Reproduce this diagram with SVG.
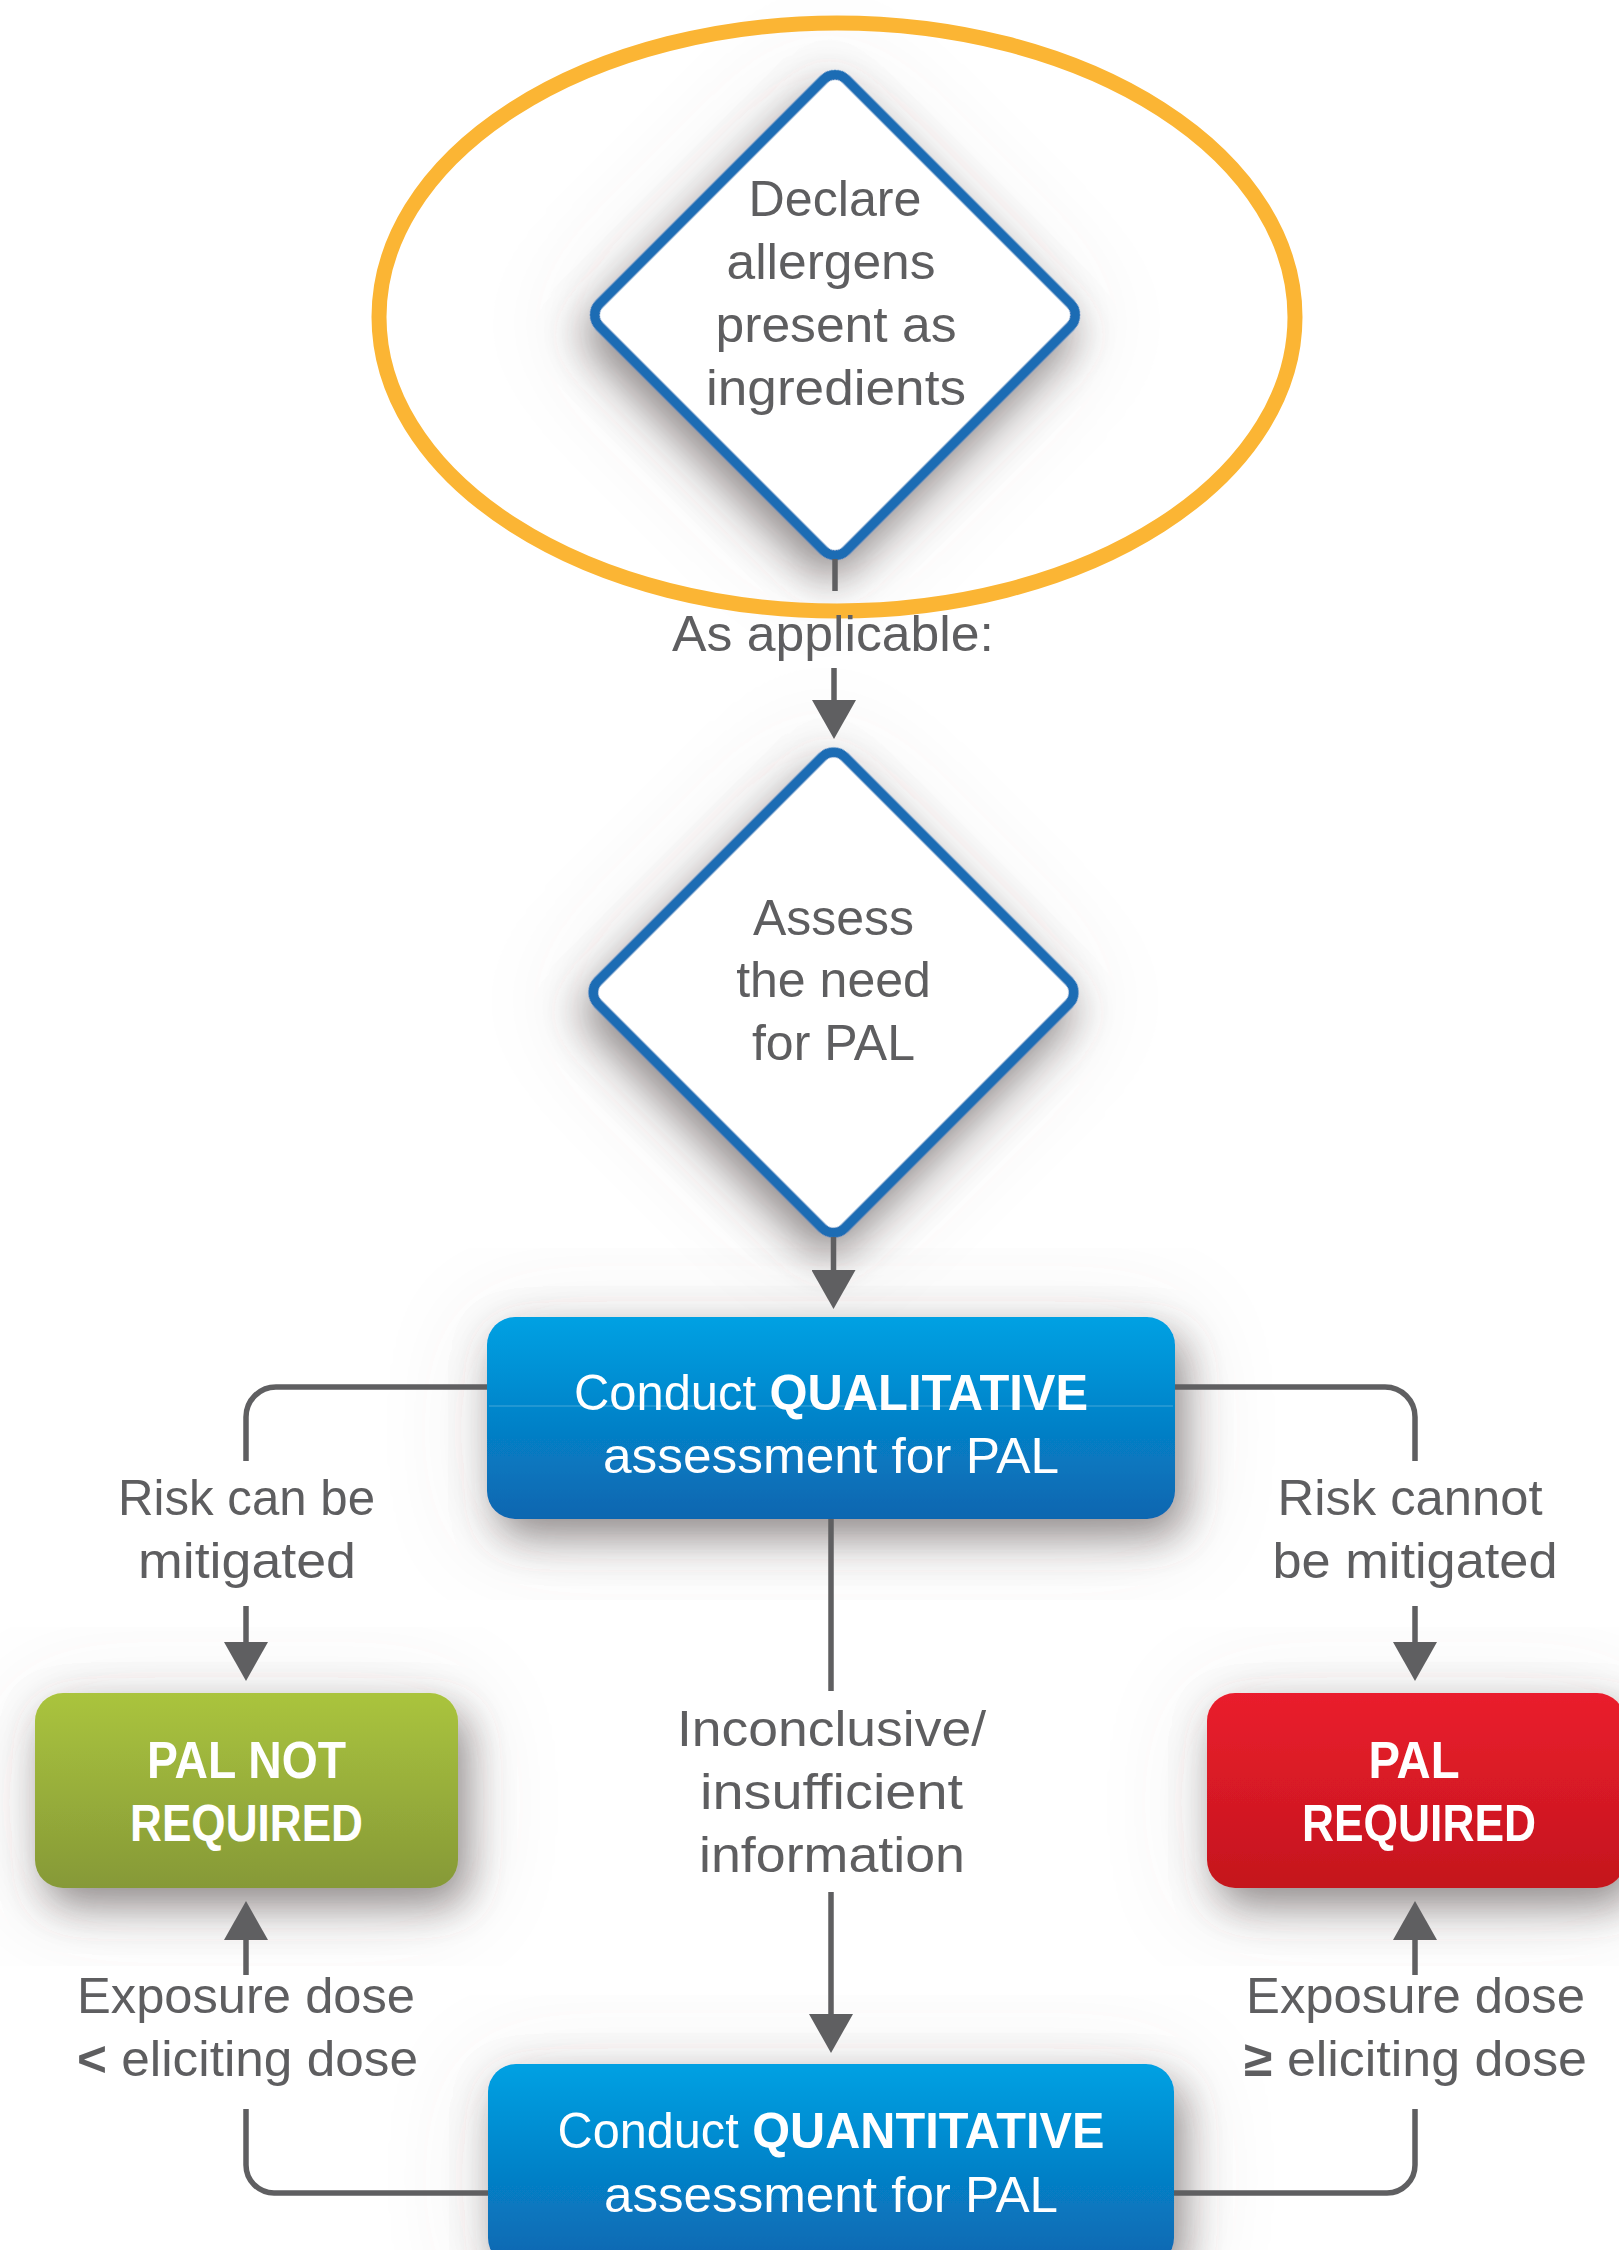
<svg xmlns="http://www.w3.org/2000/svg" width="1619" height="2250" viewBox="0 0 1619 2250">
<defs>
<style>
.lbl{font-family:"Liberation Sans",Arial,sans-serif;font-size:50px;fill:#5e5e60;text-anchor:middle}
.wht{font-family:"Liberation Sans",Arial,sans-serif;font-size:50px;fill:#ffffff;text-anchor:middle}
.bld{font-weight:bold}
.dia{fill:#ffffff;stroke:#1a6cb4;stroke-width:10}
.con{fill:none;stroke:#5f5f61;stroke-width:5.5}
</style>
<filter id="sh" x="-40%" y="-40%" width="180%" height="180%">
<feGaussianBlur in="SourceAlpha" stdDeviation="50" result="b2"/>
<feOffset in="b2" dx="0" dy="12" result="o2"/>
<feFlood flood-color="#6b6464" flood-opacity="0.16"/>
<feComposite in2="o2" operator="in" result="s2"/>
<feGaussianBlur in="SourceAlpha" stdDeviation="20" result="b1"/>
<feOffset in="b1" dx="10" dy="18" result="o1"/>
<feFlood flood-color="#574d4d" flood-opacity="0.6"/>
<feComposite in2="o1" operator="in" result="s1"/>
<feMerge><feMergeNode in="s2"/><feMergeNode in="s1"/><feMergeNode in="SourceGraphic"/></feMerge>
</filter>
<linearGradient id="gBlue" x1="0" y1="0" x2="0" y2="1">
<stop offset="0" stop-color="#00a1e3"/><stop offset="1" stop-color="#0a66b0"/>
</linearGradient>
<linearGradient id="gGreen" x1="0" y1="0" x2="0" y2="1">
<stop offset="0" stop-color="#aac43e"/><stop offset="1" stop-color="#869937"/>
</linearGradient>
<linearGradient id="gRed" x1="0" y1="0" x2="0" y2="1">
<stop offset="0" stop-color="#ea1d2d"/><stop offset="1" stop-color="#c4161d"/>
</linearGradient>
<marker id="ah" viewBox="0 0 39 44" refX="0" refY="22" markerWidth="39" markerHeight="44" markerUnits="userSpaceOnUse" orient="auto">
<path d="M0,0 L39,22 L0,44 Z" fill="#5f5f61"/>
</marker>
</defs>
<rect x="0" y="0" width="1619" height="2250" fill="#ffffff"/>

<g id="n-declare">
<rect class="dia" x="-174.5" y="-174.5" width="349" height="349" rx="16" transform="translate(835,315) rotate(45)" filter="url(#sh)"/>
<text class="lbl" x="835" y="216" textLength="173" lengthAdjust="spacingAndGlyphs">Declare</text>
<text class="lbl" x="831" y="279" textLength="209" lengthAdjust="spacingAndGlyphs">allergens</text>
<text class="lbl" x="836" y="342" textLength="241" lengthAdjust="spacingAndGlyphs">present as</text>
<text class="lbl" x="836" y="405" textLength="260" lengthAdjust="spacingAndGlyphs">ingredients</text>
</g>

<g id="n-assess">
<rect class="dia" x="-174.5" y="-174.5" width="349" height="349" rx="16" transform="translate(833.5,992.5) rotate(45)" filter="url(#sh)"/>
<text class="lbl" x="833.5" y="935">Assess</text>
<text class="lbl" x="833.5" y="997">the need</text>
<text class="lbl" x="833.5" y="1060">for PAL</text>
</g>

<g id="n-qualitative">
<rect x="487" y="1317" width="688" height="202" rx="28" fill="url(#gBlue)" filter="url(#sh)"/>
<line x1="489" y1="1406" x2="1173" y2="1406" stroke="#ffffff" stroke-opacity="0.18" stroke-width="1.5"/>
<text class="wht" x="831" y="1410" textLength="514" lengthAdjust="spacingAndGlyphs">Conduct <tspan class="bld">QUALITATIVE</tspan></text>
<text class="wht" x="831" y="1473" textLength="456" lengthAdjust="spacingAndGlyphs">assessment for PAL</text>
</g>

<g id="n-pal-not-required">
<rect x="35" y="1693" width="423" height="195" rx="28" fill="url(#gGreen)" filter="url(#sh)"/>
<text class="wht bld" x="246.5" y="1778" style="font-size:52px" textLength="199" lengthAdjust="spacingAndGlyphs">PAL NOT</text>
<text class="wht bld" x="246.5" y="1841" style="font-size:52px" textLength="233" lengthAdjust="spacingAndGlyphs">REQUIRED</text>
</g>

<g id="n-pal-required">
<rect x="1207" y="1693" width="418" height="195" rx="28" fill="url(#gRed)" filter="url(#sh)"/>
<text class="wht bld" x="1414" y="1778" style="font-size:52px" textLength="91" lengthAdjust="spacingAndGlyphs">PAL</text>
<text class="wht bld" x="1419" y="1841" style="font-size:52px" textLength="234" lengthAdjust="spacingAndGlyphs">REQUIRED</text>
</g>

<g id="n-quantitative">
<rect x="488" y="2064" width="686" height="202" rx="28" fill="url(#gBlue)" filter="url(#sh)"/>
<text class="wht" x="831" y="2148" textLength="547" lengthAdjust="spacingAndGlyphs">Conduct <tspan class="bld">QUANTITATIVE</tspan></text>
<text class="wht" x="831" y="2212" textLength="454" lengthAdjust="spacingAndGlyphs">assessment for PAL</text>
</g>

<g id="highlight">
<ellipse cx="837" cy="317" rx="458" ry="294" fill="none" stroke="#fbb534" stroke-width="15"/>
</g>

<g id="connectors">
<path class="con" d="M835,559 V591"/>
<path class="con" d="M834,668 V700" marker-end="url(#ah)"/>
<path class="con" d="M833.5,1237 V1270" marker-end="url(#ah)"/>
<path class="con" d="M487,1387 H276 A30,30 0 0 0 246,1417 V1461"/>
<path class="con" d="M246,1606 V1642" marker-end="url(#ah)"/>
<path class="con" d="M1175,1387 H1385 A30,30 0 0 1 1415,1417 V1461"/>
<path class="con" d="M1415,1606 V1642" marker-end="url(#ah)"/>
<path class="con" d="M831,1519 V1691"/>
<path class="con" d="M831,1892 V2014" marker-end="url(#ah)"/>
<path class="con" d="M488,2193 H274 A28,28 0 0 1 246,2165 V2109"/>
<path class="con" d="M246,1975 V1940" marker-end="url(#ah)"/>
<path class="con" d="M1174,2193 H1387 A28,28 0 0 0 1415,2165 V2109"/>
<path class="con" d="M1415,1975 V1940" marker-end="url(#ah)"/>
<text class="lbl" x="833" y="651" textLength="322" lengthAdjust="spacingAndGlyphs">As applicable:</text>
<text class="lbl" x="246.5" y="1515" textLength="257" lengthAdjust="spacingAndGlyphs">Risk can be</text>
<text class="lbl" x="247" y="1578" textLength="218" lengthAdjust="spacingAndGlyphs">mitigated</text>
<text class="lbl" x="1410" y="1515" textLength="265" lengthAdjust="spacingAndGlyphs">Risk cannot</text>
<text class="lbl" x="1415" y="1578" textLength="285" lengthAdjust="spacingAndGlyphs">be mitigated</text>
<text class="lbl" x="831.5" y="1746" textLength="309" lengthAdjust="spacingAndGlyphs">Inconclusive/</text>
<text class="lbl" x="831.5" y="1809" textLength="263" lengthAdjust="spacingAndGlyphs">insufficient</text>
<text class="lbl" x="832" y="1872" textLength="266" lengthAdjust="spacingAndGlyphs">information</text>
<text class="lbl" x="246" y="2013" textLength="338" lengthAdjust="spacingAndGlyphs">Exposure dose</text>
<text class="lbl" x="247.5" y="2076" textLength="341" lengthAdjust="spacingAndGlyphs"><tspan class="bld">&lt;</tspan> eliciting dose</text>
<text class="lbl" x="1415.5" y="2013" textLength="339" lengthAdjust="spacingAndGlyphs">Exposure dose</text>
<text class="lbl" x="1415.5" y="2076" textLength="343" lengthAdjust="spacingAndGlyphs"><tspan class="bld">≥</tspan> eliciting dose</text>
</g>
</svg>
